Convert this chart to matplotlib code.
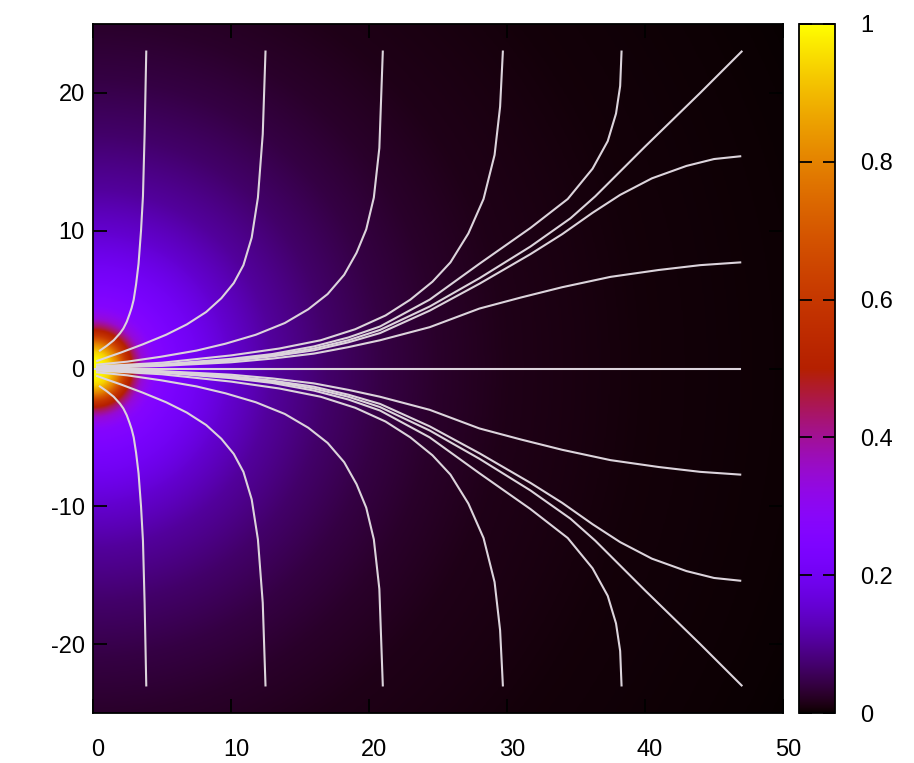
import numpy as np
import matplotlib.pyplot as plt
import matplotlib.transforms as mtransforms

plt.rcParams['font.family'] = ['Liberation Sans', 'DejaVu Sans']
plt.rcParams['axes.unicode_minus'] = False

# glow profile: value of the map against distance from the origin
glow_r = [0, 0.7, 1.2, 1.8, 2.4, 3.0, 3.6, 4.5, 6, 8, 10, 13, 17, 21, 25, 30, 40, 60]
glow_v = [1.0, 0.99, 0.94, 0.8, 0.6, 0.45, 0.34, 0.27, 0.23, 0.19, 0.15, 0.105, 0.068, 0.043, 0.027, 0.015, 0.006, 0.0]

# field lines, upper half (lower half is the mirror image)
lines_top = [
    [(0.5, 1.3), (1.0, 1.65), (1.5, 2.05), (1.95, 2.55), (2.2, 2.9), (2.45, 3.4), (2.65, 3.95),
     (2.8, 4.4), (2.95, 5.0), (3.12, 6.1), (3.3, 7.6), (3.48, 10), (3.62, 12.5), (3.74, 17),
     (3.86, 23)],
    [(0.3, 0.55), (1.0, 0.8), (2.0, 1.15), (3.6, 1.75), (5.3, 2.45), (6.8, 3.2), (8.2, 4.1),
     (9.3, 5.1), (10.2, 6.2), (10.9, 7.5), (11.5, 9.5), (11.95, 12.4), (12.3, 17), (12.5, 23)],
    [(0.3, 0.28), (2.5, 0.5), (4.9, 0.85), (7.5, 1.3), (9.6, 1.8), (11.8, 2.45), (13.9, 3.3),
     (15.6, 4.3), (17.0, 5.4), (18.2, 6.8), (19.1, 8.4), (19.8, 10.1), (20.35, 12.4),
     (20.75, 16), (21.0, 23)],
    [(0.3, 0.15), (5, 0.42), (10, 0.95), (13.5, 1.45), (16.5, 2.05), (19.0, 2.85), (21.2, 3.85),
     (23.0, 5.0), (24.6, 6.3), (25.9, 7.7), (27.2, 9.8), (28.3, 12.3), (29.1, 15.5),
     (29.5, 19), (29.7, 23)],
    [(0.3, 0.1), (5, 0.3), (10, 0.7), (13, 1.05), (16, 1.6), (18.5, 2.25), (20.8, 3.05),
     (24.4, 5.0), (28, 7.6), (31.7, 10.2), (34.4, 12.3), (36.2, 14.5), (37.3, 16.5),
     (37.9, 18.5), (38.2, 20.5), (38.3, 23)],
    [(0.3, 0.08), (5, 0.27), (10, 0.62), (13, 0.95), (16, 1.45), (18.5, 2.05), (20.8, 2.8),
     (24.4, 4.5), (28, 6.55), (31.7, 8.85), (34.6, 10.9), (36.4, 12.5), (40, 16.1),
     (44, 20), (47, 23)],
    [(0.3, 0.06), (5, 0.24), (10, 0.56), (13, 0.88), (16, 1.32), (18.5, 1.9), (20.8, 2.57),
     (24.4, 4.2), (28, 6.15), (31.7, 8.3), (34, 9.75), (36.2, 11.3), (38.2, 12.6),
     (40.5, 13.8), (43, 14.7), (45, 15.2), (46.9, 15.4)],
    [(0.3, 0.04), (5, 0.19), (10, 0.45), (13, 0.72), (16, 1.08), (18.5, 1.55), (20.8, 2.05),
     (24.4, 3.0), (28, 4.35), (31, 5.15), (34, 5.9), (37.5, 6.65), (41, 7.15), (44, 7.5),
     (46.9, 7.7)],
]
axis_line = [(0.0, 0.0), (46.9, 0.0)]

xticks = [0, 10, 20, 30, 40, 50]
yticks = [-20, -10, 0, 10, 20]
cb_ticks = [0, 0.2, 0.4, 0.6, 0.8, 1]
cb_labels = ['0', '0.2', '0.4', '0.6', '0.8', '1']

fig = plt.figure(figsize=(9.14, 7.63), dpi=100)
ax = fig.add_axes([93/914, 50/763, 690/914, 689/763])
cax = fig.add_axes([799/914, 50/763, 36/914, 689/763])

cmap = plt.colormaps['gnuplot'].resampled(4096)
xs = np.linspace(0, 50, 501)
ys = np.linspace(-25, 25, 501)
X, Y = np.meshgrid(xs, ys)
V = np.interp(np.hypot(X, Y), glow_r, glow_v)
im = ax.imshow(V, extent=(0, 50, -25, 25), origin='lower', cmap=cmap,
               vmin=0, vmax=1, interpolation='bilinear', aspect='auto')

lc = '#dcd4dc'
for pts in lines_top:
    px = [p[0] for p in pts]
    py = [p[1] for p in pts]
    ax.plot(px, py, color=lc, lw=1.5, solid_joinstyle='round')
    ax.plot(px, [-v for v in py], color=lc, lw=1.5, solid_joinstyle='round')
ax.plot([p[0] for p in axis_line], [p[1] for p in axis_line], color=lc, lw=1.5)

ax.set_xlim(0, 50)
ax.set_ylim(-25, 25)
ax.set_xticks(xticks)
ax.set_yticks(yticks)
ax.tick_params(direction='in', length=10, width=1.3, color='black',
               top=True, right=True, labelsize=17)
ax.tick_params(axis='x', pad=19)
ax.tick_params(axis='y', pad=6)
shift = mtransforms.ScaledTranslation(5/100, 0, fig.dpi_scale_trans)
for lab in ax.get_xticklabels():
    lab.set_transform(lab.get_transform() + shift)
for s in ax.spines.values():
    s.set_linewidth(1.3)

cb = fig.colorbar(im, cax=cax, ticks=cb_ticks)
cb.ax.set_yticklabels(cb_labels)
cb.ax.tick_params(direction='in', length=9, width=1.3, color='black',
                  left=True, right=True, labelsize=17, pad=18)
cb.outline.set_linewidth(1.3)

fig.savefig('out.png', dpi=100)
